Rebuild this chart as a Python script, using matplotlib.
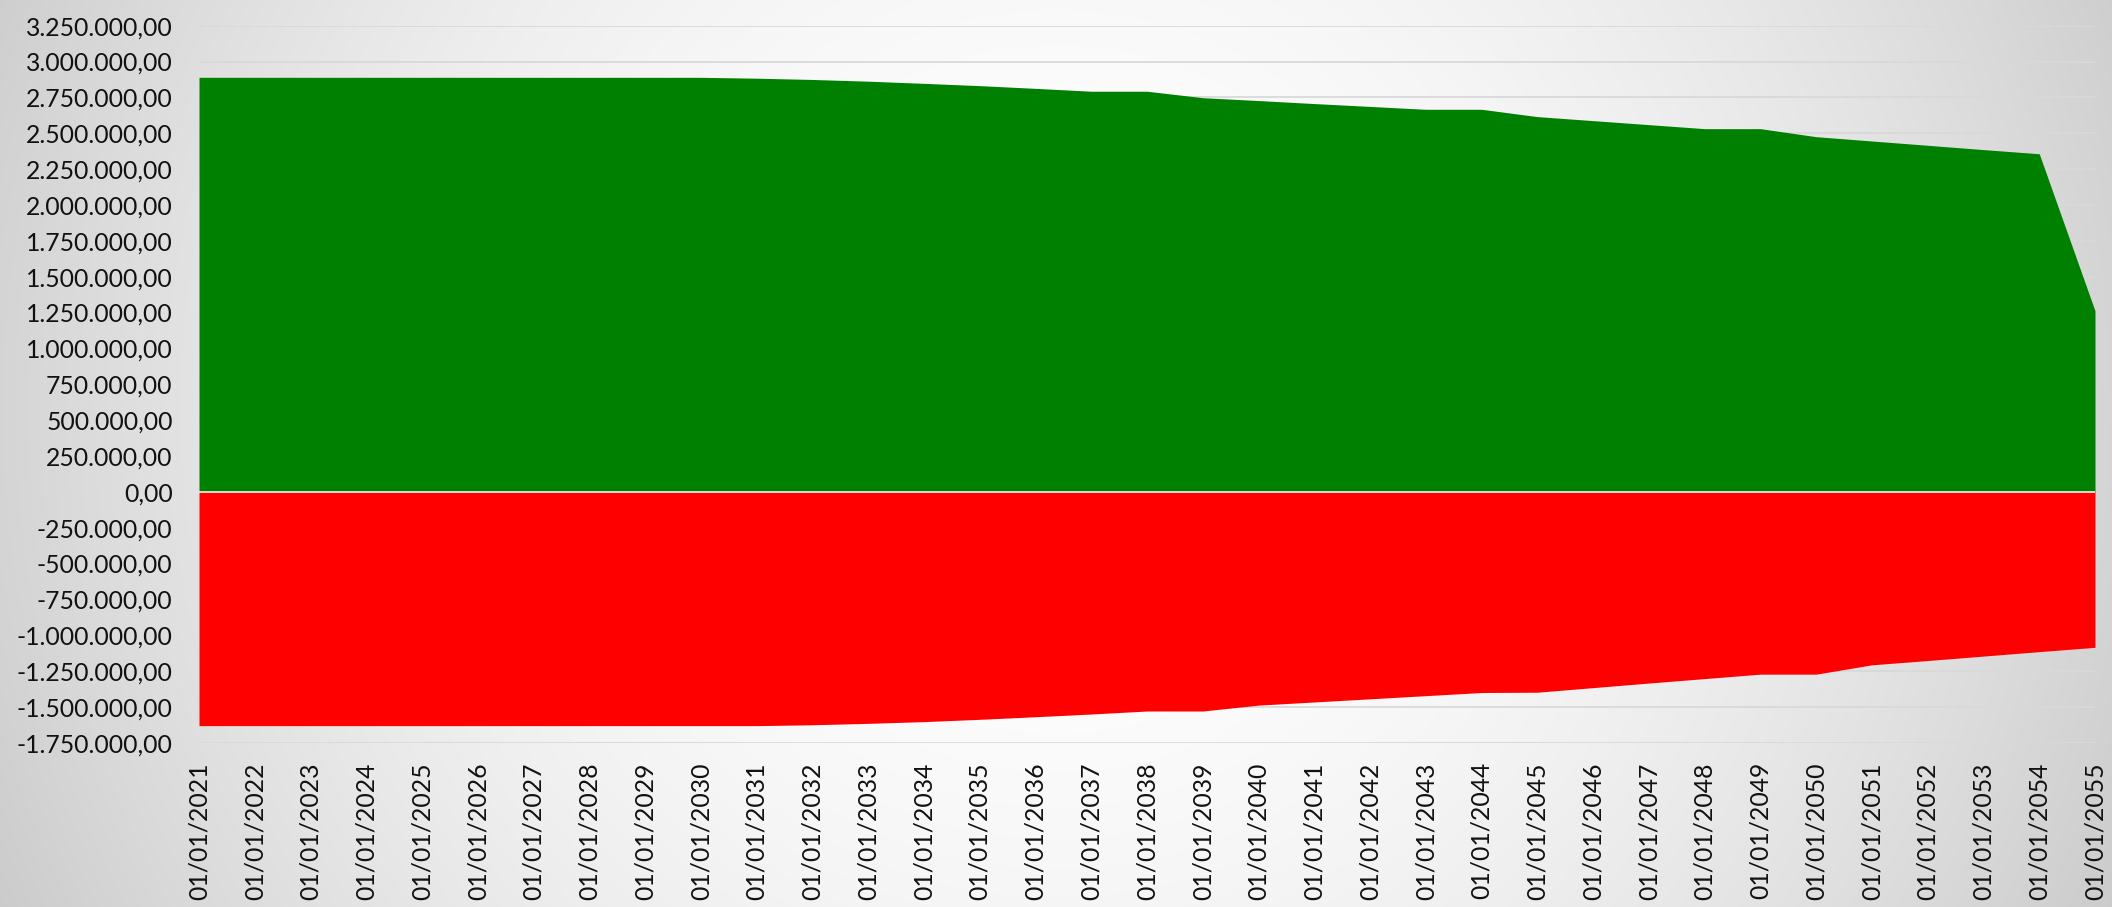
import numpy as np
import matplotlib
matplotlib.use("Agg")
import matplotlib.pyplot as plt
from matplotlib.ticker import FuncFormatter, FixedLocator

categories = [
    "01/01/2021", "01/01/2022", "01/01/2023", "01/01/2024", "01/01/2025",
    "01/01/2026", "01/01/2027", "01/01/2028", "01/01/2029", "01/01/2030",
    "01/01/2031", "01/01/2032", "01/01/2033", "01/01/2034", "01/01/2035",
    "01/01/2036", "01/01/2037", "01/01/2038", "01/01/2039", "01/01/2040",
    "01/01/2041", "01/01/2042", "01/01/2043", "01/01/2044", "01/01/2045",
    "01/01/2046", "01/01/2047", "01/01/2048", "01/01/2049", "01/01/2050",
    "01/01/2051", "01/01/2052", "01/01/2053", "01/01/2054", "01/01/2055",
]

positive = [
    2890000, 2890000, 2890000, 2890000, 2890000,
    2890000, 2890000, 2890000, 2890000, 2890000,
    2884000, 2875000, 2863000, 2848000, 2832000,
    2813000, 2793000, 2793000, 2748000, 2728000,
    2707000, 2687000, 2667000, 2667000, 2616000,
    2588000, 2560000, 2532000, 2532000, 2476000,
    2446000, 2416000, 2386000, 2357000, 1262000,
]

negative = [
    -1631000, -1631000, -1631000, -1631000, -1631000,
    -1631000, -1631000, -1631000, -1631000, -1631000,
    -1631000, -1625000, -1615000, -1603000, -1587000,
    -1569000, -1550000, -1529000, -1529000, -1488000,
    -1466000, -1444000, -1422000, -1400000, -1398000,
    -1366000, -1334000, -1303000, -1272000, -1272000,
    -1207000, -1177000, -1146000, -1115000, -1085000,
]

y_ticks = list(range(-1750000, 3250001, 250000))

W, H, DPI = 2112, 907, 100
fig = plt.figure(figsize=(W / DPI, H / DPI), dpi=DPI)

# radial gray background
bg = fig.add_axes([0, 0, 1, 1], zorder=-10)
yy, xx = np.mgrid[0:H, 0:W]
cx, cy = W * 0.5, H * 0.45
r = np.sqrt((xx - cx) ** 2 + (yy - cy) ** 2) / np.sqrt(cx ** 2 + cy ** 2)
g = 1.0 - 0.19 * r ** 2.0
img = np.dstack([g, g, g])
bg.imshow(img, aspect="auto", extent=[0, 1, 0, 1], origin="upper")
bg.set_axis_off()

ax = fig.add_axes([199 / W, 1 - 742.7 / H, (2095 - 199) / W, (742.7 - 25.7) / H])
ax.set_facecolor("none")

x = np.arange(len(categories))
ax.fill_between(x, 0, positive, color="#008000", linewidth=0, zorder=2)
ax.fill_between(x, negative, 0, color="#FF0000", linewidth=0, zorder=2)
ax.axhline(0, color="#f4f4f4", linewidth=1.2, zorder=3)

ax.set_xlim(0, len(categories) - 1)
ax.set_ylim(-1750000, 3250000)

ax.yaxis.set_major_locator(FixedLocator(y_ticks))


def euro(v, pos=None):
    s = f"{v:,.2f}"
    return s.replace(",", "X").replace(".", ",").replace("X", ".")


ax.yaxis.set_major_formatter(FuncFormatter(euro))
ax.set_xticks(x)
ax.set_xticklabels(categories, rotation=90)

ax.grid(axis="y", color="#d9d9d9", linewidth=1.3, zorder=0)
ax.grid(axis="x", visible=False)
ax.set_axisbelow(True)

for sp in ax.spines.values():
    sp.set_visible(False)

ax.tick_params(axis="y", length=0, pad=19, labelsize=17.8, labelcolor="#111111")
ax.tick_params(axis="x", length=0, pad=14, labelsize=17.8, labelcolor="#111111")
for lab in ax.get_xticklabels() + ax.get_yticklabels():
    lab.set_fontfamily(["Lato", "DejaVu Sans"])

fig.savefig("out.png", dpi=DPI)
